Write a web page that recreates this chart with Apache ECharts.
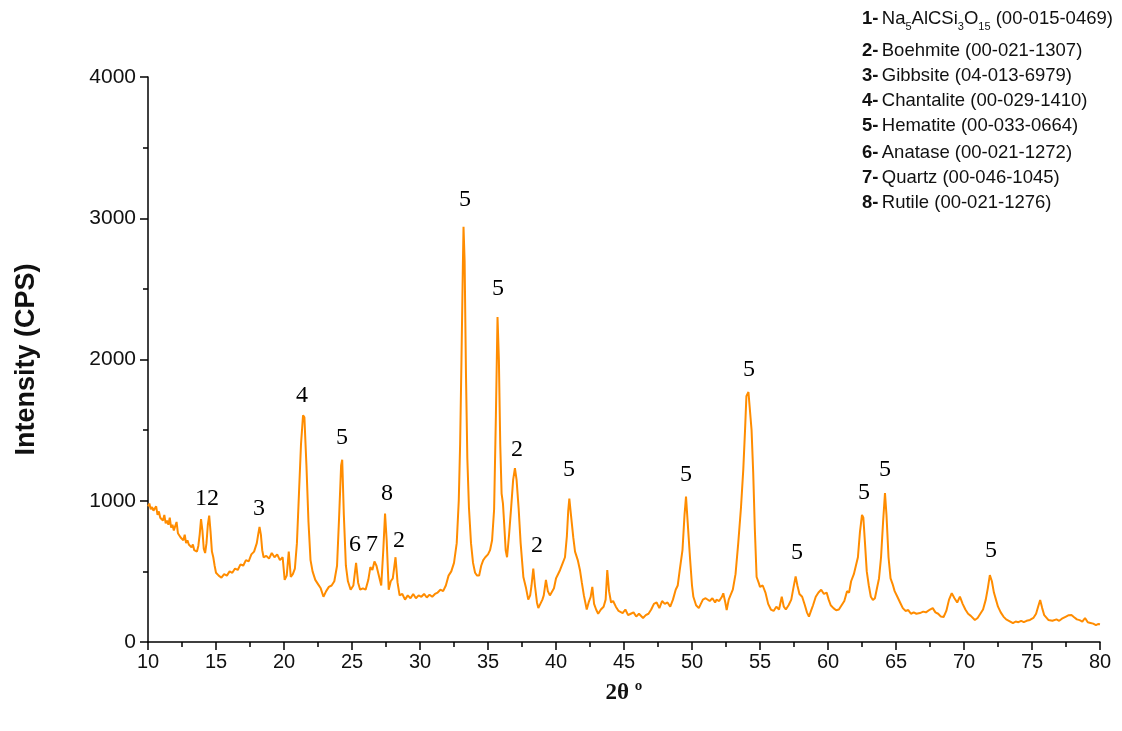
<!DOCTYPE html>
<html>
<head>
<meta charset="utf-8">
<script src="https://cdn.jsdelivr.net/npm/echarts@6/dist/echarts.min.js"></script>
<style>html,body{margin:0;padding:0;background:#fff}#c{width:1122px;height:731px}</style>
</head>
<body>
<div id="c"></div>
<script>
const twoTheta = [10.0,10.1,10.2,10.3,10.4,10.5,10.6,10.7,10.8,10.9,11.0,11.1,11.2,11.3,11.4,11.5,11.6,11.7,11.8,11.9,12.0,12.1,12.2,12.3,12.4,12.5,12.6,12.7,12.8,12.9,13.0,13.1,13.2,13.3,13.4,13.5,13.6,13.7,13.8,13.9,14.0,14.1,14.2,14.3,14.4,14.5,14.6,14.7,14.8,14.9,15.0,15.2,15.4,15.6,15.8,16.0,16.2,16.4,16.6,16.8,17.0,17.2,17.4,17.6,17.8,18.0,18.1,18.2,18.3,18.4,18.5,18.7,18.9,19.1,19.3,19.5,19.7,19.9,20.05,20.2,20.35,20.5,20.65,20.8,20.95,21.1,21.25,21.4,21.5,21.65,21.8,21.95,22.1,22.3,22.5,22.7,22.9,23.1,23.3,23.5,23.7,23.9,24.05,24.2,24.28,24.4,24.55,24.7,24.9,25.1,25.3,25.45,25.6,25.8,26.0,26.2,26.35,26.5,26.65,26.8,26.95,27.15,27.3,27.43,27.55,27.7,27.85,28.0,28.2,28.35,28.5,28.7,28.9,29.1,29.3,29.5,29.7,29.9,30.1,30.3,30.5,30.7,30.9,31.1,31.3,31.5,31.7,31.9,32.1,32.3,32.5,32.7,32.85,32.95,33.05,33.15,33.2,33.28,33.38,33.48,33.6,33.75,33.9,34.05,34.2,34.35,34.5,34.65,34.8,35.0,35.15,35.3,35.45,35.58,35.7,35.8,35.9,36.0,36.1,36.2,36.3,36.4,36.55,36.7,36.85,36.98,37.1,37.25,37.4,37.6,37.8,37.96,38.1,38.2,38.33,38.45,38.6,38.7,38.85,39.0,39.1,39.26,39.4,39.55,39.68,39.85,40.0,40.15,40.3,40.5,40.66,40.8,40.9,40.98,41.1,41.27,41.4,41.6,41.76,41.9,42.05,42.26,42.4,42.55,42.67,42.8,42.95,43.1,43.3,43.5,43.65,43.77,43.9,44.05,44.2,44.4,44.6,44.9,45.1,45.3,45.5,45.7,45.9,46.1,46.4,46.6,46.8,47.0,47.2,47.4,47.6,47.8,48.0,48.2,48.4,48.6,48.8,48.95,49.1,49.3,49.45,49.56,49.68,49.85,50.0,50.1,50.3,50.5,50.6,50.8,51.0,51.1,51.3,51.5,51.7,51.8,52.0,52.2,52.3,52.45,52.55,52.7,53.0,53.2,53.4,53.6,53.77,53.9,54.0,54.15,54.26,54.38,54.5,54.62,54.75,54.9,55.0,55.2,55.4,55.6,55.8,56.0,56.2,56.4,56.6,56.75,56.9,57.1,57.3,57.45,57.62,57.75,57.9,58.1,58.3,58.45,58.6,58.75,58.9,59.1,59.3,59.5,59.7,59.9,60.05,60.2,60.4,60.6,60.8,61.0,61.2,61.4,61.55,61.7,61.9,62.05,62.2,62.35,62.5,62.6,62.72,62.85,63.0,63.15,63.3,63.45,63.6,63.75,63.9,64.05,64.19,64.3,64.45,64.6,64.75,64.9,65.1,65.3,65.5,65.7,65.9,66.1,66.3,66.5,66.76,67.0,67.2,67.5,67.7,67.9,68.1,68.3,68.5,68.7,68.9,69.1,69.3,69.5,69.7,69.9,70.1,70.3,70.5,70.8,71.0,71.2,71.4,71.6,71.75,71.9,72.05,72.2,72.35,72.5,72.7,72.9,73.1,73.3,73.6,73.8,74.0,74.2,74.4,74.6,74.85,75.1,75.3,75.45,75.6,75.75,75.9,76.2,76.5,76.8,77.0,77.2,77.5,77.7,77.9,78.1,78.3,78.5,78.7,78.9,79.1,79.3,79.5,79.7,79.85,80.0];
const intensity = [960,980,940,955,930,935,960,900,925,880,890,860,900,840,860,830,880,810,830,790,800,850,770,780,740,750,720,760,700,720,690,700,670,690,650,660,640,680,760,870,790,660,630,700,830,895,780,640,600,540,490,470,455,480,470,500,490,520,510,550,540,580,570,620,640,700,760,815,760,650,600,610,590,630,600,620,580,600,440,470,640,460,480,520,700,1050,1400,1605,1590,1250,850,580,500,440,410,380,320,360,390,400,430,540,880,1250,1290,900,540,430,370,400,560,420,370,380,370,440,530,510,570,540,480,400,650,910,720,370,430,450,600,420,330,340,300,330,310,340,310,330,320,340,315,335,320,340,350,370,360,400,470,500,560,700,1000,1400,2000,2650,2940,2700,1900,1300,950,700,560,490,470,470,540,580,600,620,650,720,940,1600,2300,2000,1400,1050,980,820,650,600,760,950,1150,1230,1150,950,700,460,380,300,330,400,520,400,280,240,270,300,330,440,360,330,320,380,450,480,510,560,600,750,930,1015,900,740,640,580,510,420,330,230,280,320,390,270,230,200,230,250,300,510,360,280,290,250,220,205,230,190,200,210,180,200,170,190,200,230,270,280,240,290,270,280,250,300,370,400,510,650,900,1030,850,600,400,320,260,240,250,300,310,320,290,310,280,300,290,320,345,280,226,300,370,480,700,950,1220,1500,1740,1770,1760,1500,1200,800,460,420,390,400,350,270,230,220,250,230,320,250,230,260,300,380,465,400,340,320,260,210,180,220,260,320,350,370,340,350,300,260,240,225,230,260,290,360,350,430,480,540,600,780,900,880,700,500,400,320,297,310,380,450,600,850,1055,900,600,450,410,360,320,280,240,220,226,200,210,200,205,215,210,230,240,210,200,180,177,220,300,346,310,280,321,270,230,200,185,156,170,200,230,300,380,474,430,350,300,250,210,180,160,150,133,145,140,150,140,150,156,170,200,250,297,240,190,156,150,160,150,165,180,190,191,175,160,155,145,170,140,135,130,120,127,125];

const xTicks = [10,15,20,25,30,35,40,45,50,55,60,65,70,75,80];
const yTicks = [0,1000,2000,3000,4000];

const peakText = ['12','3','4','5','6','7','8','2','5','5','2','2','5','5','5','5','5','5','5'];
const peakX    = [14.34,18.16,21.32,24.26,25.22,26.47,27.57,28.46,33.3,35.74,37.13,38.6,40.96,49.56,54.19,57.72,62.65,64.19,71.99];
const peakY    = [1012,942,1742,1444,687,687,1048,715,3129,2499,1359,680,1218,1182,1926,630,1055,1218,644];

const phaseNums  = ['1-','2-','3-','4-','5-','6-','7-','8-'];
const phaseNames = ['Na{s|5}AlCSi{s|3}O{s|15} (00-015-0469)','Boehmite (00-021-1307)','Gibbsite (04-013-6979)','Chantalite (00-029-1410)','Hematite (00-033-0664)','Anatase (00-021-1272)','Quartz (00-046-1045)','Rutile (00-021-1276)'];

const lineData = twoTheta.map((t, i) => [t, intensity[i]]);
const labelData = peakX.map((x, i) => ({ value: [x, peakY[i]], name: peakText[i] }));

const legendTops = [9, 41, 66, 91, 116, 143, 168, 193];
const graphics = phaseNums.map((n, i) => ({
  type: 'text', left: 862, top: legendTops[i],
  style: {
    text: '{b|' + n + '} {n|' + phaseNames[i].replace(/\{s\|([^}]*)\}/g, '}{s|$1}{n|') + '}',
    rich: {
      b: { fontFamily: 'Liberation Sans', fontWeight: 'bold', fontSize: 18.5, lineHeight: 24, fill: '#111' },
      n: { fontFamily: 'Liberation Sans', fontSize: 18.5, lineHeight: 24, fill: '#111' },
      s: { fontFamily: 'Liberation Sans', fontSize: 11, lineHeight: 28, verticalAlign: 'bottom', fill: '#111' }
    }
  }
}));

const chart = echarts.init(document.getElementById('c'), null, { renderer: 'canvas' });
chart.setOption({
  animation: false,
  backgroundColor: '#fff',
  grid: { left: 148, right: 22, top: 77, bottom: 89, containLabel: false },
  xAxis: {
    type: 'value', min: 10, max: 80, interval: 5,
    name: '2θ º', nameLocation: 'middle', nameGap: 40,
    nameTextStyle: { fontFamily: 'Liberation Serif', fontSize: 23, fontWeight: 'bold', color: '#111' },
    axisLine: { show: true, onZero: false, lineStyle: { color: '#000', width: 1.5 } },
    axisTick: { show: true, inside: false, length: 8, lineStyle: { color: '#000', width: 1.5 } },
    minorTick: { show: true, splitNumber: 2, length: 5, lineStyle: { color: '#000', width: 1.5 } },
    splitLine: { show: false },
    axisLabel: { fontFamily: 'Liberation Sans', fontSize: 20, color: '#111', margin: 10,
      formatter: v => xTicks.includes(v) ? String(v) : '' }
  },
  yAxis: {
    type: 'value', min: 0, max: 4000, interval: 1000,
    name: 'Intensity (CPS)', nameLocation: 'middle', nameGap: 108, nameRotate: 90,
    nameTextStyle: { fontFamily: 'Liberation Sans', fontSize: 27, fontWeight: 'bold', color: '#111' },
    axisLine: { show: true, lineStyle: { color: '#000', width: 1.5 } },
    axisTick: { show: true, inside: false, length: 8, lineStyle: { color: '#000', width: 1.5 } },
    minorTick: { show: true, splitNumber: 2, length: 5, lineStyle: { color: '#000', width: 1.5 } },
    splitLine: { show: false },
    axisLabel: { fontFamily: 'Liberation Sans', fontSize: 21, color: '#111', margin: 12,
      formatter: v => yTicks.includes(v) ? String(v) : '' }
  },
  series: [
    {
      type: 'line', data: lineData, showSymbol: false, symbol: 'none',
      lineStyle: { color: '#FF8C00', width: 2 }, z: 2
    },
    {
      type: 'scatter', data: labelData, symbolSize: 1, itemStyle: { color: 'rgba(0,0,0,0)', opacity: 1 },
      label: { show: true, position: 'inside', formatter: p => p.name,
        fontFamily: 'Liberation Serif', fontSize: 24, color: '#000', opacity: 1 },
      labelLayout: { hideOverlap: false },
      z: 3, silent: true
    }
  ],
  graphic: graphics
});
</script>
</body>
</html>
